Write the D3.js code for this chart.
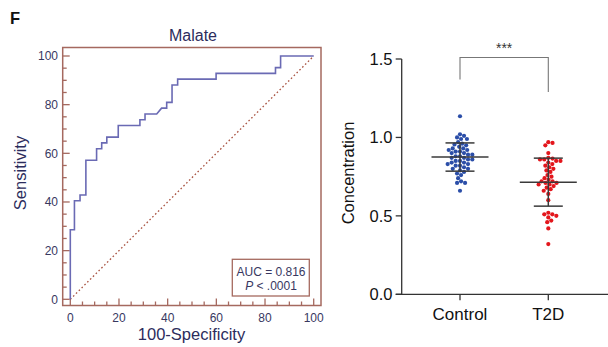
<!DOCTYPE html>
<html>
<head>
<meta charset="utf-8">
<script src="https://cdn.jsdelivr.net/npm/d3@7/dist/d3.min.js"></script>
<style>
  html, body { margin: 0; padding: 0; background: #fff; }
  svg { display: block; font-family: "Liberation Sans", Arial, sans-serif; }
</style>
</head>
<body>
<svg id="fig" width="608" height="347"></svg>
<script>
// ROC curve vertices (100-Specificity, Sensitivity)
const rocFpr = [0, 0, 1.7, 1.7, 4, 4, 6.4, 6.4, 10.8, 10.8, 12.9, 12.9, 15, 15, 19.7, 19.7,
  28.6, 28.6, 30.7, 30.7, 35.5, 37.5, 39.6, 39.6, 41.8, 41.8, 44.1, 44.1, 59.9, 59.9,
  84.3, 84.3, 86.4, 86.4, 100];
const rocTpr = [0, 28.57, 28.57, 40.48, 40.48, 42.86, 42.86, 57.14, 57.14, 61.9, 61.9, 64.29, 64.29, 66.67, 66.67, 71.43,
  71.43, 73.81, 73.81, 76.19, 76.19, 78.57, 78.57, 80.95, 80.95, 88.1, 88.1, 90.48, 90.48, 92.86,
  92.86, 95.24, 95.24, 100, 100];
const rocTicks = [0, 20, 40, 60, 80, 100];
const aucText = "AUC = 0.816";

// Scatter dot plot
const groups = ["Control", "T2D"];
const controlValues = [1.135, 1.02, 1.01, 1.00, 0.99, 0.99, 0.97, 0.96, 0.955, 0.95,
  0.94, 0.93, 0.93, 0.92, 0.92, 0.91, 0.91, 0.90, 0.90, 0.89,
  0.89, 0.88, 0.88, 0.87, 0.87, 0.86, 0.86, 0.85, 0.85, 0.84,
  0.84, 0.83, 0.83, 0.82, 0.82, 0.81, 0.80, 0.80, 0.79, 0.78,
  0.77, 0.76, 0.74, 0.72, 0.71, 0.71, 0.66];
const t2dValues = [0.97, 0.965, 0.95, 0.90, 0.87, 0.865, 0.86, 0.86, 0.85, 0.85, 0.84,
  0.83, 0.82, 0.81, 0.80, 0.79, 0.78, 0.76, 0.75, 0.74, 0.73, 0.72,
  0.72, 0.71, 0.71, 0.70, 0.70, 0.69, 0.68, 0.67, 0.66, 0.64, 0.60,
  0.52, 0.51, 0.51, 0.50, 0.49, 0.47, 0.46, 0.42, 0.32];
const groupMeans = [0.875, 0.715];
const groupSDs = [0.09, 0.153];
const concTicks = [0.0, 0.5, 1.0, 1.5];

const svg = d3.select("#fig");

// Panel letter
svg.append("text").attr("x", 10).attr("y", 24)
  .attr("font-size", 16.5).attr("font-weight", "bold").attr("fill", "#111").text("F");

// ---------- ROC panel ----------
const frameColor = "#a5695f";
const inkColor = "#38385f";
const x = d3.scaleLinear().domain([0, 100]).range([70.3, 313.7]);
const y = d3.scaleLinear().domain([0, 100]).range([299.3, 56]);
const frame = { left: 62.7, top: 47.5, right: 321, bottom: 305.5 };

const roc = svg.append("g");
roc.append("rect")
  .attr("x", frame.left).attr("y", frame.top)
  .attr("width", frame.right - frame.left).attr("height", frame.bottom - frame.top)
  .attr("fill", "none").attr("stroke", frameColor).attr("stroke-width", 1.5);

// minor + major ticks, pointing inward
const minor = d3.range(0, 101, 5);
roc.selectAll(".ty").data(minor).join("line")
  .attr("x1", frame.left).attr("x2", d => frame.left + (d % 20 === 0 ? 7 : 4))
  .attr("y1", d => y(d)).attr("y2", d => y(d))
  .attr("stroke", frameColor).attr("stroke-width", 1.3);
roc.selectAll(".tx").data(minor).join("line")
  .attr("y1", frame.bottom).attr("y2", d => frame.bottom - (d % 20 === 0 ? 7 : 4))
  .attr("x1", d => x(d)).attr("x2", d => x(d))
  .attr("stroke", frameColor).attr("stroke-width", 1.3);

roc.selectAll(".ly").data(rocTicks).join("text")
  .attr("x", 58).attr("y", d => y(d)).attr("dy", "0.35em")
  .attr("text-anchor", "end").attr("font-size", 12).attr("fill", inkColor).text(d => d);
roc.selectAll(".lx").data(rocTicks).join("text")
  .attr("x", d => x(d)).attr("y", 322)
  .attr("text-anchor", "middle").attr("font-size", 12).attr("fill", inkColor).text(d => d);

// chance diagonal
roc.append("line")
  .attr("x1", x(0)).attr("y1", y(0)).attr("x2", x(100)).attr("y2", y(100))
  .attr("stroke", "#a8513f").attr("stroke-width", 1.3).attr("stroke-dasharray", "1.6,2.4");

// ROC curve
const rocLine = d3.line().x(d => x(d[0])).y(d => y(d[1]));
roc.append("path")
  .attr("d", rocLine(rocFpr.map((f, i) => [f, rocTpr[i]])))
  .attr("fill", "none").attr("stroke", "#6a6ab4").attr("stroke-width", 1.6);

// titles
roc.append("text").attr("x", 193).attr("y", 41).attr("text-anchor", "middle")
  .attr("font-size", 16).attr("fill", "#2c2c5c").text("Malate");
roc.append("text").attr("x", 191.5).attr("y", 340).attr("text-anchor", "middle")
  .attr("font-size", 16.5).attr("fill", "#2c2c5c").text("100-Specificity");
roc.append("text").attr("transform", "translate(26,173) rotate(-90)").attr("text-anchor", "middle")
  .attr("font-size", 16.5).attr("fill", "#2c2c5c").text("Sensitivity");

// AUC box
roc.append("rect").attr("x", 232.3).attr("y", 259.3).attr("width", 77).attr("height", 36.7)
  .attr("fill", "#fff").attr("stroke", frameColor).attr("stroke-width", 1.3);
roc.append("text").attr("x", 271).attr("y", 275.5).attr("text-anchor", "middle")
  .attr("font-size", 12).attr("fill", inkColor).text(aucText);
const pt = roc.append("text").attr("x", 271).attr("y", 290).attr("text-anchor", "middle")
  .attr("font-size", 12).attr("fill", inkColor);
pt.append("tspan").attr("font-style", "italic").text("P");
pt.append("tspan").text(" < .0001");

// ---------- Concentration panel ----------
const yc = d3.scaleLinear().domain([0, 1.5]).range([294.3, 59]);
const xc = d3.scalePoint().domain(groups).range([460, 548.3]);
const axisX = 401.7;
const dot = svg.append("g");

dot.append("line").attr("x1", axisX).attr("x2", axisX).attr("y1", yc(1.5)).attr("y2", yc(0))
  .attr("stroke", "#333").attr("stroke-width", 1.3);
dot.append("line").attr("x1", axisX - 6).attr("x2", 608).attr("y1", yc(0)).attr("y2", yc(0))
  .attr("stroke", "#333").attr("stroke-width", 1.3);
dot.selectAll(".cty").data(concTicks).join("line")
  .attr("x1", axisX - 6).attr("x2", axisX).attr("y1", d => yc(d)).attr("y2", d => yc(d))
  .attr("stroke", "#333").attr("stroke-width", 1.3);
dot.selectAll(".cly").data(concTicks).join("text")
  .attr("x", 392.5).attr("y", d => yc(d)).attr("dy", "0.36em").attr("text-anchor", "end")
  .attr("font-size", 16.5).attr("fill", "#111").text(d => d.toFixed(1));
dot.selectAll(".ctx").data(groups).join("line")
  .attr("x1", d => xc(d)).attr("x2", d => xc(d)).attr("y1", yc(0)).attr("y2", yc(0) + 6)
  .attr("stroke", "#333").attr("stroke-width", 1.3);
dot.selectAll(".clx").data(groups).join("text")
  .attr("x", d => xc(d)).attr("y", 320).attr("text-anchor", "middle")
  .attr("font-size", 17).attr("fill", "#111").text(d => d);
dot.append("text").attr("transform", "translate(354,173) rotate(-90)").attr("text-anchor", "middle")
  .attr("font-size", 16.5).attr("fill", "#111").text("Concentration");

// significance bracket
dot.append("path")
  .attr("d", `M${xc("Control")},${yc(1.37)}V${yc(1.51)}H${xc("T2D")}V${yc(1.29)}`)
  .attr("fill", "none").attr("stroke", "#777").attr("stroke-width", 1.1);
dot.append("text").attr("x", (xc("Control") + xc("T2D")) / 2).attr("y", 53)
  .attr("text-anchor", "middle").attr("font-size", 14).attr("fill", "#333").text("***");

// beeswarm placement: each dot takes the smallest horizontal offset free of overlap
function swarm(values, cx, diam) {
  const placed = [];
  values.map((v, i) => ({ v, i })).sort((a, b) => b.v - a.v).forEach(p => {
    const py = yc(p.v);
    const cands = [0];
    placed.forEach(q => {
      const dy = Math.abs(q.y - py);
      if (dy < diam) {
        const dx = Math.sqrt(diam * diam - dy * dy);
        cands.push(q.x + dx + 0.01, q.x - dx - 0.01);
      }
    });
    cands.sort((a, b) => Math.abs(a) - Math.abs(b));
    const ok = c => placed.every(q => (q.x - c) ** 2 + (q.y - py) ** 2 >= diam * diam - 0.01);
    const px = cands.find(ok);
    placed.push({ x: px, y: py, v: p.v });
  });
  return placed.map(p => ({ x: cx + p.x, y: p.y }));
}

const groupValues = [controlValues, t2dValues];
const groupColors = ["#2b4ea8", "#e3161c"];
groups.forEach((g, gi) => {
  const pts = swarm(groupValues[gi], xc(g), 4.3);
  dot.append("g").selectAll("circle").data(pts).join("circle")
    .attr("cx", d => d.x).attr("cy", d => d.y).attr("r", 2.1)
    .attr("fill", groupColors[gi]);
});

// mean ± SD
groups.forEach((g, gi) => {
  const cx = xc(g), m = groupMeans[gi], s = groupSDs[gi];
  const gg = dot.append("g").attr("stroke", "#3a3a3a").attr("stroke-width", 1.5);
  gg.append("line").attr("x1", cx).attr("x2", cx).attr("y1", yc(m + s)).attr("y2", yc(m - s));
  gg.append("line").attr("x1", cx - 28.5).attr("x2", cx + 28.5).attr("y1", yc(m)).attr("y2", yc(m));
  [m + s, m - s].forEach(v => gg.append("line")
    .attr("x1", cx - 14.5).attr("x2", cx + 14.5).attr("y1", yc(v)).attr("y2", yc(v)));
});
</script>
</body>
</html>
